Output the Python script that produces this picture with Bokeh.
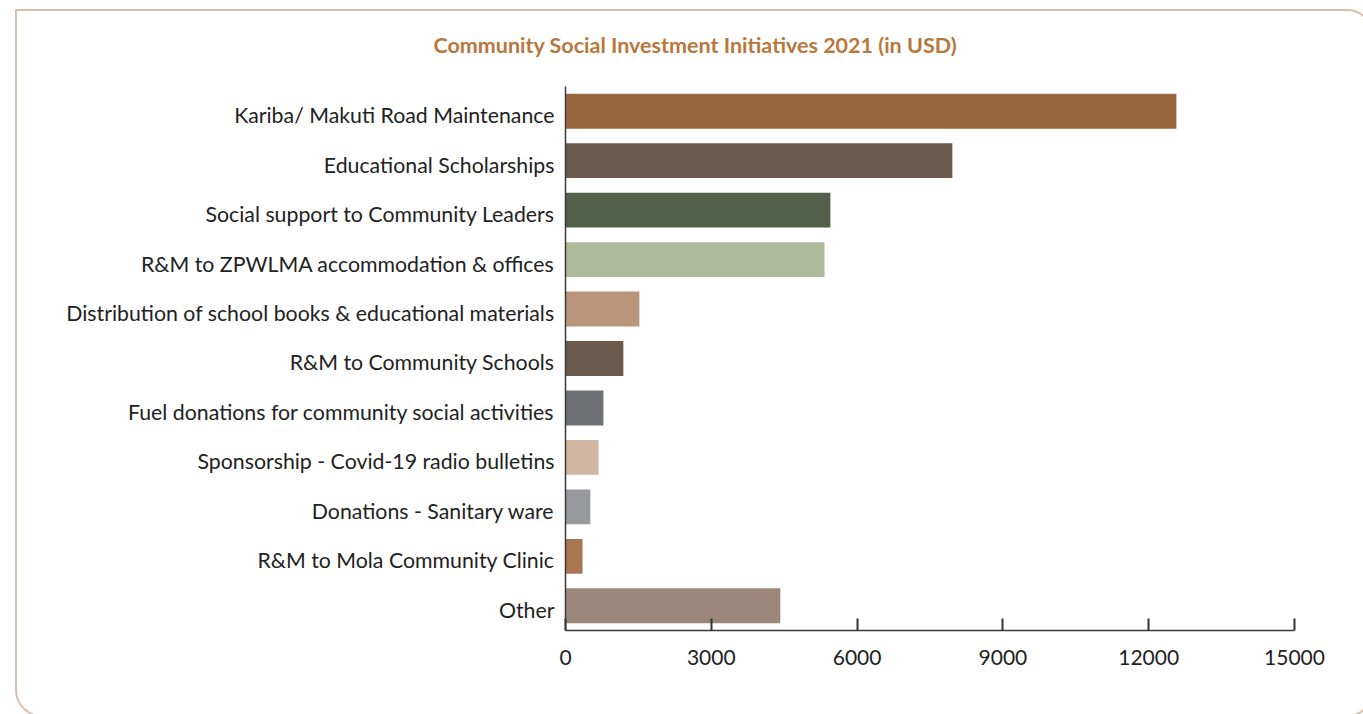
from bokeh.plotting import figure
from bokeh.models import FixedTicker, Range1d, InlineStyleSheet, LinearAxis, ColumnDataSource
from bokeh.embed import file_html
from bokeh.resources import INLINE

categories = [
    "Kariba/ Makuti Road Maintenance",
    "Educational Scholarships",
    "Social support to Community Leaders",
    "R&M to ZPWLMA accommodation & offices",
    "Distribution of school books & educational materials",
    "R&M to Community Schools",
    "Fuel donations for community social activities",
    "Sponsorship - Covid-19 radio bulletins",
    "Donations - Sanitary ware",
    "R&M to Mola Community Clinic",
    "Other",
]
values = [12570, 7960, 5450, 5330, 1520, 1190, 780, 680, 510, 350, 4420]
colors = ["#98673f", "#6c5b4c", "#52604a", "#adba9a", "#b9967b", "#6c5b4c",
          "#6f7074", "#d1b6a2", "#97989c", "#a87752", "#9d877a"]
x_ticks = [0, 3000, 6000, 9000, 12000, 15000]

n = len(categories)
idx = list(range(n))
shift = 0.08  # label offset (in category units) so labels sit slightly low like the reference

src = ColumnDataSource(dict(y=idx, cat=categories, value=values, color=colors))

p = figure(width=1363, height=714, y_range=Range1d(start=n - 0.5, end=-0.5),
           x_range=Range1d(0, 15000), output_backend="svg", toolbar_location=None,
           min_border_left=565, min_border_right=69, min_border_top=85, min_border_bottom=84,
           title="Community Social Investment Initiatives 2021 (in USD)")

p.hbar(y="y", right="value", left=0, height=0.705, color="color", line_color=None, source=src)

p.title.align = "left"
p.title.offset = -132
p.title.standoff = 58
p.title.text_font = "Lato"
p.title.text_font_style = "bold"
p.title.text_font_size = "21.5px"
p.title.text_color = "#b8773c"

p.xgrid.visible = False
p.ygrid.visible = False
p.outline_line_color = None

p.xaxis.ticker = FixedTicker(ticks=x_ticks)
p.xaxis.major_tick_in = 12
p.xaxis.major_tick_out = 0
p.xaxis.minor_tick_line_color = None
p.xaxis.major_tick_line_width = 2
p.xaxis.major_tick_line_color = "#333333"
p.xaxis.axis_line_color = "#3a3a3a"
p.xaxis.axis_line_width = 1.5
p.xaxis.major_label_standoff = 19
p.xaxis.major_label_text_font = "Lato"
p.xaxis.major_label_text_font_size = "21px"
p.xaxis.major_label_text_color = "#222222"

p.yaxis.visible = False

p.extra_y_ranges = {"labels": Range1d(start=n - 0.5 - shift, end=-0.5 - shift)}
lab_axis = LinearAxis(y_range_name="labels",
                      ticker=FixedTicker(ticks=idx),
                      major_label_overrides={i: c for i, c in zip(idx, categories)},
                      major_tick_line_color=None, minor_tick_line_color=None,
                      axis_line_color="#3a3a3a", axis_line_width=1.5,
                      major_label_standoff=5, major_label_text_font="Lato",
                      major_label_text_font_size="21.3px", major_label_text_color="#222222")
p.add_layout(lab_axis, "left")

p.stylesheets = [InlineStyleSheet(css="""
:host { overflow: hidden; }
:host::after {
  content: ''; position: absolute; left: 15px; top: 9px;
  width: 1359px; height: 708px; box-sizing: border-box;
  border: 2px solid #d8bfab; border-radius: 0 27px 27px 27px;
  pointer-events: none;
}
""")]

open("out.html", "w").write(file_html(p, INLINE))
